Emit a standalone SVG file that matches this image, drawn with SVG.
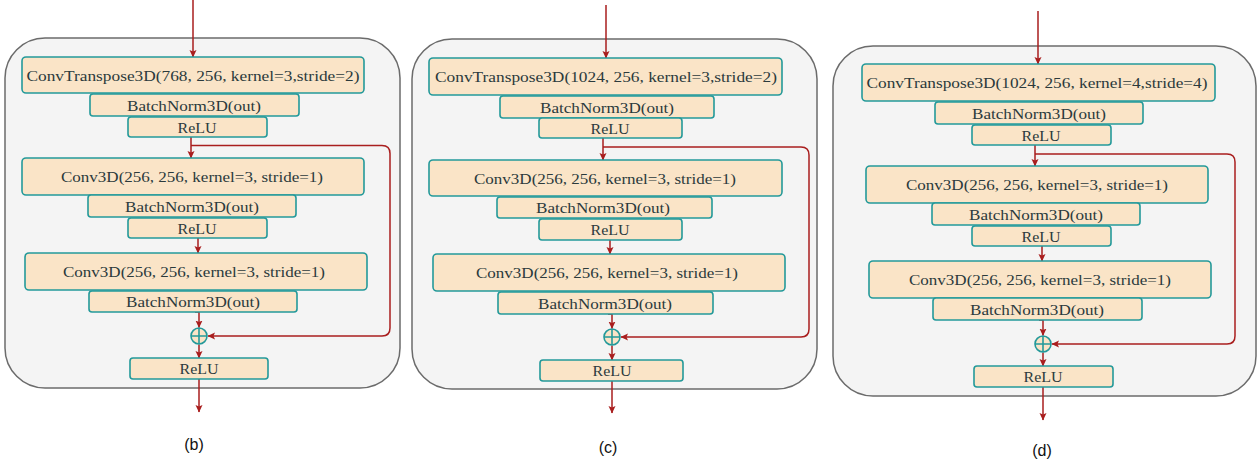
<svg xmlns="http://www.w3.org/2000/svg" width="1257" height="463" viewBox="0 0 1257 463">
<style>
.panel{fill:#f4f4f4;stroke:#6b6b6b;stroke-width:1.5}
.box{fill:#fae4c7;stroke:#23999a;stroke-width:1.6}
.t{font-family:"Liberation Serif","DejaVu Serif",serif;font-size:15.5px;fill:#2b3a3c;text-anchor:middle}
.lbl{font-family:"Liberation Sans",Arial,sans-serif;font-size:16px;fill:#111;text-anchor:middle}
.c{fill:none;stroke:#a91e1e;stroke-width:1.5}
.ca{fill:none;stroke:#a91e1e;stroke-width:1.5;marker-end:url(#ah)}
.plus{fill:#fae4c7;stroke:#23999a;stroke-width:1.6}
</style>
<defs>
<marker id="ah" markerWidth="8" markerHeight="8" refX="7" refY="4" orient="auto" markerUnits="userSpaceOnUse">
<path d="M0,0.5 L7.5,4 L0,7.5 L1.5,4 Z" fill="#a91e1e"/>
</marker>
</defs>

<!-- panels -->
<rect id="panel-b" class="panel" x="5" y="38" width="395" height="350" rx="40"/>
<rect id="panel-c" class="panel" x="412" y="39" width="405" height="350" rx="40"/>
<rect id="panel-d" class="panel" x="833" y="46" width="423" height="350" rx="40"/>

<!-- connectors -->
<g id="connectors">
<!-- b -->
<line class="ca" x1="193" y1="0" x2="193" y2="57"/>
<line class="ca" x1="191" y1="137" x2="191" y2="158"/>
<path class="ca" d="M191,145.5 H382 Q390,145.5 390,153.5 V328 Q390,336 382,336 H208"/>
<line class="ca" x1="198" y1="238" x2="198" y2="253"/>
<path class="ca" d="M195,312 H199 V327.5"/>
<line class="ca" x1="199" y1="344.5" x2="199" y2="358"/>
<line class="ca" x1="199" y1="379" x2="199" y2="412"/>
<!-- c -->
<line class="ca" x1="606" y1="5" x2="606" y2="58"/>
<line class="ca" x1="603" y1="138" x2="603" y2="160"/>
<path class="ca" d="M603,147 H801 Q809,147 809,155 V329 Q809,337 801,337 H621"/>
<line class="ca" x1="610" y1="240" x2="610" y2="254"/>
<path class="ca" d="M608,314 H612 V328.5"/>
<line class="ca" x1="612" y1="345.5" x2="612" y2="360"/>
<line class="ca" x1="612" y1="381" x2="612" y2="413"/>
<!-- d -->
<line class="ca" x1="1038" y1="11" x2="1038" y2="64"/>
<line class="ca" x1="1035" y1="145" x2="1035" y2="166"/>
<path class="ca" d="M1035,154 H1227 Q1235,154 1235,162 V336 Q1235,344 1227,344 H1052"/>
<line class="ca" x1="1042" y1="246" x2="1042" y2="261"/>
<path class="ca" d="M1039,320 H1043 V335.5"/>
<line class="ca" x1="1043" y1="352.5" x2="1043" y2="366"/>
<line class="ca" x1="1043" y1="387" x2="1043" y2="420"/>
</g>

<!-- panel b nodes -->
<g id="b-convT"><rect class="box" x="22" y="57" width="342" height="36" rx="4"/><text class="t" x="193" y="80.5" textLength="333" lengthAdjust="spacingAndGlyphs">ConvTranspose3D(768, 256, kernel=3,stride=2)</text></g>
<g id="b-bn1"><rect class="box" x="90" y="94" width="209" height="22" rx="3"/><text class="t" x="194" y="110.5" textLength="134" lengthAdjust="spacingAndGlyphs">BatchNorm3D(out)</text></g>
<g id="b-relu1"><rect class="box" x="128" y="117" width="139" height="20" rx="3"/><text class="t" x="197" y="132.5" textLength="39" lengthAdjust="spacingAndGlyphs">ReLU</text></g>
<g id="b-conv1"><rect class="box" x="22" y="158" width="342" height="37" rx="4"/><text class="t" x="192" y="182" textLength="262" lengthAdjust="spacingAndGlyphs">Conv3D(256, 256, kernel=3, stride=1)</text></g>
<g id="b-bn2"><rect class="box" x="88" y="195" width="208" height="22" rx="3"/><text class="t" x="192" y="211.5" textLength="134" lengthAdjust="spacingAndGlyphs">BatchNorm3D(out)</text></g>
<g id="b-relu2"><rect class="box" x="128" y="218" width="139" height="20" rx="3"/><text class="t" x="197" y="233.5" textLength="39" lengthAdjust="spacingAndGlyphs">ReLU</text></g>
<g id="b-conv2"><rect class="box" x="25" y="253" width="342" height="37" rx="4"/><text class="t" x="194" y="277" textLength="262" lengthAdjust="spacingAndGlyphs">Conv3D(256, 256, kernel=3, stride=1)</text></g>
<g id="b-bn3"><rect class="box" x="89" y="291" width="208" height="21" rx="3"/><text class="t" x="193" y="307" textLength="134" lengthAdjust="spacingAndGlyphs">BatchNorm3D(out)</text></g>
<g id="b-add"><circle class="plus" cx="199" cy="336" r="8"/><path d="M191,336 H207 M199,328 V344" stroke="#23999a" stroke-width="1.6"/></g>
<g id="b-relu3"><rect class="box" x="130" y="358" width="138" height="21" rx="3"/><text class="t" x="199" y="374" textLength="39" lengthAdjust="spacingAndGlyphs">ReLU</text></g>
<text id="b-label" class="lbl" x="194" y="450">(b)</text>

<!-- panel c nodes -->
<g id="c-convT"><rect class="box" x="429" y="58" width="353" height="37" rx="4"/><text class="t" x="606" y="82" textLength="342" lengthAdjust="spacingAndGlyphs">ConvTranspose3D(1024, 256, kernel=3,stride=2)</text></g>
<g id="c-bn1"><rect class="box" x="500" y="96" width="214" height="22" rx="3"/><text class="t" x="607" y="112.5" textLength="134" lengthAdjust="spacingAndGlyphs">BatchNorm3D(out)</text></g>
<g id="c-relu1"><rect class="box" x="539" y="118" width="143" height="20" rx="3"/><text class="t" x="610" y="133.5" textLength="39" lengthAdjust="spacingAndGlyphs">ReLU</text></g>
<g id="c-conv1"><rect class="box" x="429" y="160" width="353" height="36" rx="4"/><text class="t" x="605" y="183.5" textLength="262" lengthAdjust="spacingAndGlyphs">Conv3D(256, 256, kernel=3, stride=1)</text></g>
<g id="c-bn2"><rect class="box" x="497" y="197" width="215" height="21" rx="3"/><text class="t" x="603" y="213" textLength="134" lengthAdjust="spacingAndGlyphs">BatchNorm3D(out)</text></g>
<g id="c-relu2"><rect class="box" x="539" y="219" width="143" height="21" rx="3"/><text class="t" x="610" y="235" textLength="39" lengthAdjust="spacingAndGlyphs">ReLU</text></g>
<g id="c-conv2"><rect class="box" x="433" y="254" width="352" height="37" rx="4"/><text class="t" x="607" y="278" textLength="262" lengthAdjust="spacingAndGlyphs">Conv3D(256, 256, kernel=3, stride=1)</text></g>
<g id="c-bn3"><rect class="box" x="498" y="292" width="215" height="22" rx="3"/><text class="t" x="605" y="308.5" textLength="134" lengthAdjust="spacingAndGlyphs">BatchNorm3D(out)</text></g>
<g id="c-add"><circle class="plus" cx="612" cy="337" r="8"/><path d="M604,337 H620 M612,329 V345" stroke="#23999a" stroke-width="1.6"/></g>
<g id="c-relu3"><rect class="box" x="540" y="360" width="143" height="21" rx="3"/><text class="t" x="612" y="376" textLength="39" lengthAdjust="spacingAndGlyphs">ReLU</text></g>
<text id="c-label" class="lbl" x="608" y="453">(c)</text>

<!-- panel d nodes -->
<g id="d-convT"><rect class="box" x="862" y="64" width="353" height="37" rx="4"/><text class="t" x="1037" y="88" textLength="341" lengthAdjust="spacingAndGlyphs">ConvTranspose3D(1024, 256, kernel=4,stride=4)</text></g>
<g id="d-bn1"><rect class="box" x="935" y="102" width="208" height="22" rx="3"/><text class="t" x="1039" y="118.5" textLength="134" lengthAdjust="spacingAndGlyphs">BatchNorm3D(out)</text></g>
<g id="d-relu1"><rect class="box" x="972" y="125" width="139" height="20" rx="3"/><text class="t" x="1041" y="140.5" textLength="39" lengthAdjust="spacingAndGlyphs">ReLU</text></g>
<g id="d-conv1"><rect class="box" x="866" y="166" width="342" height="37" rx="4"/><text class="t" x="1037" y="190" textLength="262" lengthAdjust="spacingAndGlyphs">Conv3D(256, 256, kernel=3, stride=1)</text></g>
<g id="d-bn2"><rect class="box" x="932" y="203" width="208" height="22" rx="3"/><text class="t" x="1036" y="219.5" textLength="134" lengthAdjust="spacingAndGlyphs">BatchNorm3D(out)</text></g>
<g id="d-relu2"><rect class="box" x="972" y="226" width="139" height="20" rx="3"/><text class="t" x="1041" y="241.5" textLength="39" lengthAdjust="spacingAndGlyphs">ReLU</text></g>
<g id="d-conv2"><rect class="box" x="869" y="261" width="342" height="37" rx="4"/><text class="t" x="1040" y="285" textLength="262" lengthAdjust="spacingAndGlyphs">Conv3D(256, 256, kernel=3, stride=1)</text></g>
<g id="d-bn3"><rect class="box" x="933" y="298" width="209" height="22" rx="3"/><text class="t" x="1037" y="314.5" textLength="134" lengthAdjust="spacingAndGlyphs">BatchNorm3D(out)</text></g>
<g id="d-add"><circle class="plus" cx="1043" cy="344" r="8"/><path d="M1035,344 H1051 M1043,336 V352" stroke="#23999a" stroke-width="1.6"/></g>
<g id="d-relu3"><rect class="box" x="974" y="366" width="139" height="21" rx="3"/><text class="t" x="1043" y="382" textLength="39" lengthAdjust="spacingAndGlyphs">ReLU</text></g>
<text id="d-label" class="lbl" x="1042" y="456">(d)</text>
</svg>
